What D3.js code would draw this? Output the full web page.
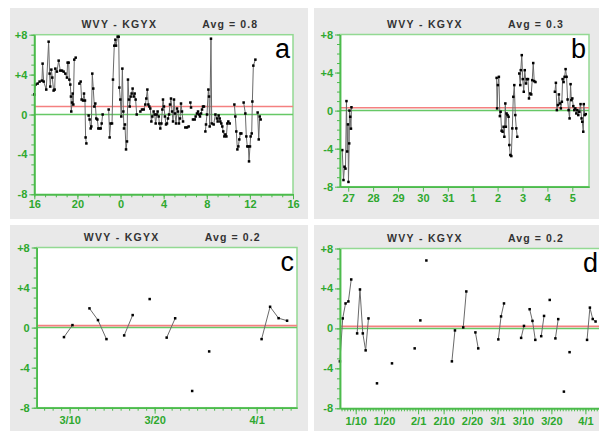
<!DOCTYPE html>
<html>
<head>
<meta charset="utf-8">
<script src="https://cdn.jsdelivr.net/npm/d3@7"></script>
<style>
  body { margin: 0; background: #fff; }
  svg { display: block; font-family: "Liberation Sans", Arial, sans-serif; }
</style>
</head>
<body>
<svg width="599" height="431"></svg>
<script>
// ---- data ----
const panelLetters = ['a', 'b', 'c', 'd'];
const stationTitle = 'WVY - KGYX';
const averages = [0.8, 0.3, 0.2, 0.2];
const yMinorTicks = d3.range(-8, 9);
const yMajorTicks = [-8, -4, 0, 4, 8];

// panel a: hours after midnight of day 1 (24 = 0h next day), null = gap
const hourTicks = [16, 20, 24, 28, 32, 36, 40];
const aSeries = [
  [16.00,2.0],[16.12,3.0],[16.31,3.1],[16.49,3.3],[16.71,3.4],[16.77,5.1],[16.87,3.3],[17.11,2.5],[17.33,7.3],[17.42,4.1],
  [17.48,2.8],[17.58,4.5],[17.67,3.7],[17.79,2.4],[17.89,2.5],[17.95,4.6],[18.10,4.3],[18.26,5.4],[18.41,4.4],[18.57,4.4],
  [18.72,4.3],[18.88,4.1],[19.03,3.7],[19.09,5.2],[19.19,5.2],[19.25,3.5],[19.34,3.0],[19.40,1.8],[19.43,0.3],[19.50,1.2],
  [19.56,2.1],[19.62,1.0],[19.71,5.5],[19.84,5.7],null,
  [20.18,3.1],[20.30,3.3],[20.39,1.5],[20.52,1.4],[20.61,2.1],[20.70,1.4],[20.76,-2.3],[20.83,-2.9],null,
  [21.04,-0.1],[21.13,-0.5],[21.23,-1.4],[21.29,-1.2],[21.38,4.1],[21.47,2.6],[21.57,0.8],[21.66,1.1],[21.75,-0.4],[21.85,-0.5],
  [21.94,-1.4],[22.06,-1.4],[22.16,-1.4],[22.25,-0.9],[22.34,0.0],null,
  [22.90,0.5],[22.99,-2.3],[23.08,-0.9],[23.21,-0.9],[23.30,3.5],[23.42,6.9],[23.52,7.5],[23.58,6.9],[23.73,7.8],[23.83,7.8],
  [23.89,2.7],[23.98,1.5],[24.07,-0.2],[24.17,4.6],[24.26,0.3],[24.32,-1.4],[24.41,-1.0],[24.51,-3.5],[24.60,-2.7],[24.69,3.5],
  [24.78,1.5],[24.85,0.8],[24.94,1.8],[25.03,2.1],[25.12,2.6],[25.22,1.8],[25.31,2.1],[25.40,1.5],[25.50,0.0],null,
  [25.84,0.3],[25.99,0.5],[26.15,0.5],[26.30,1.0],[26.39,1.6],[26.49,2.5],[26.58,1.0],[26.67,0.8],[26.76,0.6],[26.86,-0.7],
  [26.95,-0.2],[27.07,0.3],[27.17,0.0],[27.26,-0.9],[27.35,0.0],[27.44,0.3],[27.54,-0.2],[27.60,-0.9],[27.69,-1.4],[27.79,-0.9],
  [27.88,0.5],[27.94,1.5],[28.03,0.8],[28.12,-0.2],[28.22,-1.0],[28.31,-0.9],[28.40,-0.4],[28.50,0.0],[28.59,1.0],[28.68,1.6],
  [28.78,0.3],[28.87,-0.7],[28.96,1.5],[29.05,0.1],[29.15,-0.9],[29.24,0.6],[29.33,0.3],[29.42,-0.9],[29.52,-0.4],[29.61,1.1],
  [29.70,0.3],[29.80,-0.7],null,
  [30.01,-1.3],[30.17,-1.3],[30.32,-1.2],null,
  [30.48,1.2],[30.54,0.7],null,
  [30.72,-0.5],[30.88,-0.5],[30.97,-0.2],[31.09,0.1],[31.19,0.3],[31.28,0.0],[31.37,-0.2],[31.47,0.1],[31.56,0.5],[31.65,0.8],
  [31.74,0.8],null,
  [31.87,-1.7],[31.93,-1.0],[32.02,0.0],[32.15,2.5],[32.21,1.8],[32.27,-1.2],[32.39,7.6],[32.46,-0.9],[32.64,-1.0],[32.80,0.0],
  [32.95,-0.4],[33.01,-0.7],[33.10,-0.1],[33.20,-0.4],[33.26,-0.7],[33.35,-0.9],[33.44,-1.2],[33.53,-1.7],[33.63,-2.2],[33.72,-2.0],
  [33.82,-2.2],[33.91,-0.9],[34.00,-0.7],[34.13,-0.9],null,
  [34.56,1.0],[34.65,-0.2],[34.74,-1.7],[34.84,-3.5],[34.93,-3.2],[35.02,-2.5],[35.12,-1.9],[35.21,-1.9],null,
  [35.42,1.2],[35.58,0.1],[35.67,-2.2],[35.76,-3.2],[35.86,-3.2],[35.92,-4.7],[36.01,-3.2],[36.07,-2.2],[36.17,-1.9],[36.23,1.3],
  [36.32,4.9],[36.51,5.5],null,
  [36.72,0.2],[36.82,-2.5],[36.91,-0.2],[37.00,-0.5]
];

// panel b: days after the 27th, null = gap
const bDayLabels = ['27', '28', '29', '30', '31', '1', '2', '3', '4', '5'];
const bSeries = [
  [-0.24,-4.15],[-0.19,-7.3],[-0.15,-5.9],[-0.11,-6.1],[-0.07,1.0],[-0.04,-4.3],[-0.01,-1.45],[0.01,-7.5],[0.04,-3.45],[0.05,0.0],
  [0.08,-0.65],[0.11,-1.9],[0.13,0.35],null,
  [5.96,3.44],[5.98,0.23],[6.01,2.68],[6.05,3.55],[6.09,-0.58],[6.12,-0.12],[6.16,-2.12],[6.20,-2.22],[6.24,-1.7],[6.27,-2.75],
  [6.31,0.75],[6.33,-1.7],[6.36,-0.3],[6.40,-0.47],[6.44,-0.65],[6.47,-3.62],[6.51,-4.67],[6.55,-4.78],[6.59,-1.87],[6.63,1.45],
  [6.67,2.68],[6.71,-0.47],[6.75,-1.87],[6.79,-2.75],null,
  [6.87,3.9],[6.91,2.68],[6.93,4.25],[6.97,5.83],[7.01,3.31],[7.05,1.98],[7.09,4.25],[7.14,2.85],[7.18,3.31],[7.22,3.31],
  [7.26,1.28],[7.31,1.8],[7.35,1.7],[7.39,3.2],[7.43,5.0],[7.47,3.1],[7.52,3.0],null,
  [8.30,1.98],[8.34,2.92],[8.38,0.05],[8.42,0.58],[8.46,1.7],[8.50,0.75],[8.54,0.23],[8.58,0.93],[8.61,3.31],[8.65,3.0],
  [8.69,3.55],[8.73,4.36],[8.77,3.55],[8.81,1.17],[8.85,0.05],[8.89,-0.82],[8.93,2.78],[8.96,1.1],[9.00,1.28],[9.04,0.47],
  [9.08,0.05],[9.12,0.23],[9.16,-0.3],[9.20,0.05],[9.24,-0.47],[9.28,-0.12],[9.33,0.68],[9.37,-0.82],[9.40,-1.17],[9.44,-2.22],
  [9.46,0.68],[9.50,-0.47],[9.54,-0.37]
];

// panels c and d: daily differences
const dailyDates = [
  '2001-01-04T10','2001-01-05T10','2001-01-06T10','2001-01-07T10','2001-01-08T10',
  '2001-01-10T12','2001-01-11T12','2001-01-12T12','2001-01-13T12','2001-01-14T12',
  '2001-01-17T12','2001-01-22T19','2001-01-30T19','2001-02-01T19','2001-02-03T22',
  '2001-02-12T22','2001-02-14T00','2001-02-16T22','2001-02-18T00','2001-02-21T05',
  '2001-02-22T05','2001-03-01T07','2001-03-02T06','2001-03-03T07',
  '2001-03-09T08','2001-03-10T08','2001-03-12T08','2001-03-13T08','2001-03-14T08',
  '2001-03-16T10','2001-03-17T10','2001-03-19T10','2001-03-21T10','2001-03-22T10',
  '2001-03-24T10','2001-03-26T10','2001-04-01T14','2001-04-02T14','2001-04-03T14','2001-04-04T14'
];
const dailyValues = [
  -3.3, 1.0, 2.5, 2.7, 4.9,
  -0.5, 3.9, -0.5, -2.2, 1.0,
  -5.5, -3.5, -2.0, 0.8, 6.8,
  -3.3, -0.2, 0.1, 3.7, -0.4,
  -2.0, -1.1, 1.2, 2.5,
  -0.95, 0.25, 1.92, 0.75, -1.15,
  -0.78, 1.25, 2.85, -1.0, 0.93,
  -6.33, -2.38, -1.15, 2.08, 0.94, 0.69
];
const cTickDates = ['2001-03-10', '2001-03-20', '2001-04-01'];
const dTickDates = ['2001-01-10', '2001-01-20', '2001-02-01', '2001-02-10', '2001-02-20',
                    '2001-03-01', '2001-03-10', '2001-03-20', '2001-04-01'];

// ---- setup ----
const parseHour = d3.timeParse('%Y-%m-%dT%H');
const parseDay = d3.timeParse('%Y-%m-%d');
const dateFmt = d3.timeFormat('%-m/%-d');
const daily = dailyDates.map((d, i) => [parseHour(d), dailyValues[i]]);

const gray = '#e9e9e9';
const frameGreen = '#93d993';
const axisGreen = '#4cbb4c';
const labelGreen = '#2ea82e';

const svg = d3.select('svg');

// break a date series wherever consecutive days are missing
function splitDaily(data) {
  const out = [];
  data.forEach((d, i) => {
    if (i > 0 && (d[0] - data[i - 1][0]) / 864e5 > 1.5) out.push(null);
    out.push(d);
  });
  return out;
}

const panels = [
  {
    bg: [10, 8, 298, 211], box: [34.3, 34.7, 293, 194.3],
    x: d3.scaleLinear().domain([16, 40]),
    minor: d3.range(16, 41), minorSize: 3,
    major: hourTicks, majorSize: 5, fmt: d => String(d % 24),
    data: aSeries
  },
  {
    bg: [314, 8, 285, 211], box: [340, 34.5, 589, 186.7],
    x: d3.scaleLinear().domain([-0.33, 9.67]),
    minor: [], minorSize: 0,
    major: d3.range(0, 10), majorSize: 5, fmt: d => bDayLabels[d],
    data: bSeries
  },
  {
    bg: [10, 225, 298, 206], box: [36.7, 247.5, 297, 407.7],
    x: d3.scaleTime().domain([new Date(2001, 2, 6, 3), new Date(2001, 3, 5, 18)]),
    minorDays: true, minorSize: 3,
    major: cTickDates.map(parseDay), majorSize: 6, fmt: dateFmt,
    data: null
  },
  {
    bg: [314, 225, 285, 206], box: [340, 248.5, 601, 408.3],
    x: d3.scaleTime().domain([new Date(2001, 0, 4, 11), new Date(2001, 3, 6, 12)]),
    minorDays: true, minorSize: 3,
    major: dTickDates.map(parseDay), majorSize: 6, fmt: dateFmt,
    data: null
  }
];

panels[2].data = splitDaily(daily.filter(d => d[0] >= panels[2].x.domain()[0] && d[0] <= panels[2].x.domain()[1]));
panels[3].data = splitDaily(daily);

panels.forEach((p, i) => {
  const [left, top, right, bottom] = p.box;
  const x = p.x.range([left, right]);
  const y = d3.scaleLinear().domain([-8, 8]).range([bottom, top]);
  const g = svg.append('g');

  g.append('rect')
    .attr('x', p.bg[0]).attr('y', p.bg[1])
    .attr('width', p.bg[2]).attr('height', p.bg[3])
    .attr('fill', gray);

  g.append('rect')
    .attr('x', left).attr('y', top)
    .attr('width', right - left).attr('height', bottom - top)
    .attr('fill', '#fff')
    .attr('stroke', frameGreen).attr('stroke-width', 1.5);

  // zero line and average line
  g.append('line')
    .attr('x1', left).attr('x2', right)
    .attr('y1', y(0)).attr('y2', y(0))
    .attr('stroke', '#66c866').attr('stroke-width', 1.5);
  g.append('line')
    .attr('x1', left).attr('x2', right)
    .attr('y1', y(averages[i])).attr('y2', y(averages[i]))
    .attr('stroke', '#f48080').attr('stroke-width', 1.6);

  // series
  const line = d3.line()
    .defined(d => d !== null)
    .x(d => x(d[0]))
    .y(d => y(d[1]));
  g.append('path')
    .datum(p.data)
    .attr('d', line)
    .attr('fill', 'none')
    .attr('stroke', '#6a6a6a')
    .attr('stroke-width', 1);
  g.append('g').selectAll('rect')
    .data(p.data.filter(d => d !== null))
    .join('rect')
    .attr('x', d => x(d[0]) - 1.25)
    .attr('y', d => y(d[1]) - 1.25)
    .attr('width', 2.5).attr('height', 2.5)
    .attr('fill', '#000');

  // y axis
  const yMinor = g.append('g').attr('transform', `translate(${left},0)`)
    .call(d3.axisLeft(y).tickValues(yMinorTicks).tickSize(3).tickSizeOuter(0).tickFormat(''));
  const yMajor = g.append('g').attr('transform', `translate(${left},0)`)
    .call(d3.axisLeft(y).tickValues(yMajorTicks).tickSize(5).tickSizeOuter(0).tickPadding(2)
      .tickFormat(d => d > 0 ? '+' + d : String(d)));

  // x axis
  const minorVals = p.minorDays ? d3.timeDay.range(x.domain()[0], x.domain()[1]) : p.minor;
  const xMinor = g.append('g').attr('transform', `translate(0,${bottom})`)
    .call(d3.axisBottom(x).tickValues(minorVals).tickSize(p.minorSize).tickSizeOuter(0).tickFormat(''));
  const xMajor = g.append('g').attr('transform', `translate(0,${bottom})`)
    .call(d3.axisBottom(x).tickValues(p.major).tickSize(p.majorSize).tickSizeOuter(0).tickPadding(i === 0 ? 1 : 3)
      .tickFormat(p.fmt));

  [yMinor, yMajor, xMinor, xMajor].forEach(ax => {
    ax.select('.domain').attr('stroke', axisGreen).attr('stroke-width', 1.5);
    ax.selectAll('.tick line').attr('stroke', axisGreen).attr('stroke-width', 1);
    ax.selectAll('.tick text')
      .attr('fill', labelGreen)
      .attr('font-family', '"Liberation Sans", Arial, sans-serif')
      .attr('font-size', 11)
      .attr('font-weight', 'bold');
  });

  // titles
  g.append('text')
    .attr('x', left + 85).attr('y', top - 7)
    .attr('text-anchor', 'middle')
    .attr('font-size', 10.5).attr('font-weight', 'bold')
    .attr('letter-spacing', 1.3)
    .attr('fill', '#333')
    .text(stationTitle);
  g.append('text')
    .attr('x', left + 168).attr('y', top - 7)
    .attr('font-size', 10.5).attr('font-weight', 'bold')
    .attr('letter-spacing', 1.1)
    .attr('fill', '#333')
    .text('Avg = ' + averages[i]);

  // panel letter
  g.append('text')
    .attr('x', right - 3).attr('y', top + 23)
    .attr('text-anchor', 'end')
    .attr('font-size', 27)
    .attr('fill', '#000')
    .text(panelLetters[i]);
});
</script>
</body>
</html>
